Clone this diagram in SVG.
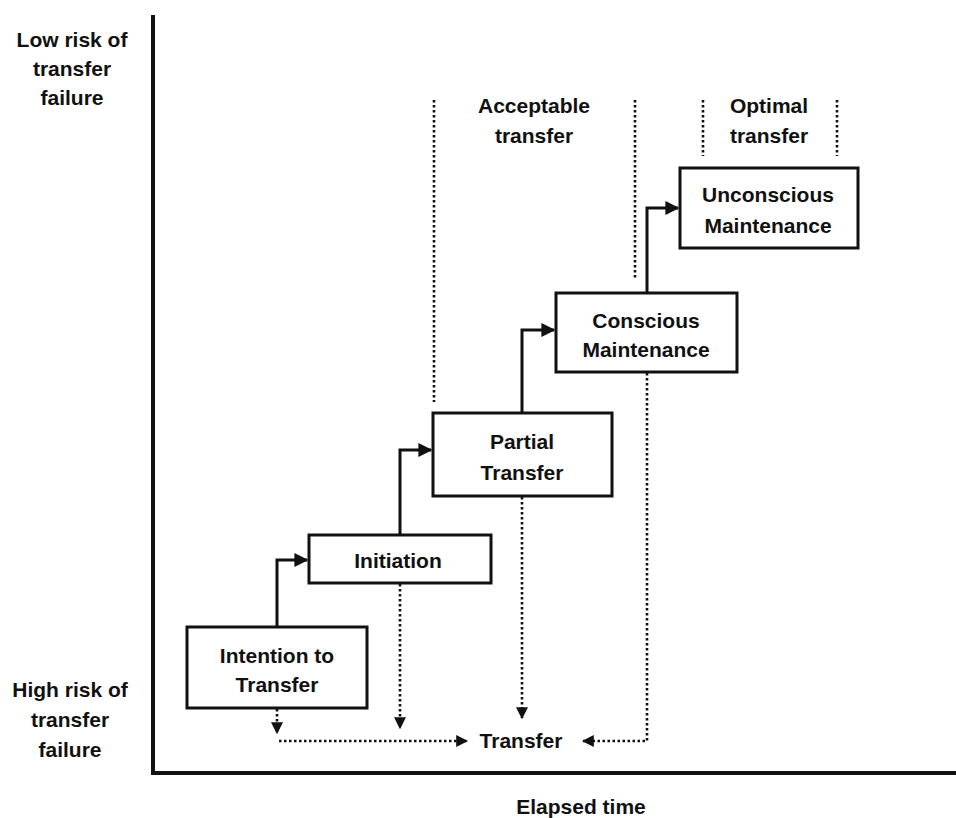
<svg xmlns="http://www.w3.org/2000/svg" width="956" height="818" viewBox="0 0 956 818">
  <style>
    text { font-family: "Liberation Sans", Arial, sans-serif; font-weight: bold; font-size: 21px; fill: #111; text-anchor: middle; }
    .box { fill: #fff; stroke: #111; stroke-width: 3; }
    .step { fill: none; stroke: #111; stroke-width: 3; }
    .dot { fill: none; stroke: #111; stroke-width: 2.6; stroke-dasharray: 2.5 2.5; }
    .axis { fill: none; stroke: #111; stroke-width: 4; }
  </style>
  <defs>
    <marker id="solid" viewBox="0 0 10 10" refX="9" refY="5" markerWidth="14" markerHeight="14" markerUnits="userSpaceOnUse" orient="auto">
      <path d="M0,0 L10,5 L0,10 Z" fill="#111"/>
    </marker>
    <marker id="small" viewBox="0 0 10 10" refX="9" refY="5" markerWidth="12" markerHeight="12" markerUnits="userSpaceOnUse" orient="auto">
      <path d="M0,0 L10,5 L0,10 Z" fill="#111"/>
    </marker>
  </defs>

  <!-- axes -->
  <g id="axes">
    <line class="axis" x1="153" y1="15" x2="153" y2="775"/>
    <line class="axis" x1="151" y1="773" x2="956" y2="773"/>
  </g>

  <!-- axis labels and zone labels -->
  <g id="labels">
    <text x="72" y="47">Low risk of</text>
    <text x="72" y="76">transfer</text>
    <text x="72" y="105">failure</text>
    <text x="70" y="697">High risk of</text>
    <text x="70" y="727">transfer</text>
    <text x="70" y="757">failure</text>
    <text x="581" y="814">Elapsed time</text>
    <text x="534" y="113">Acceptable</text>
    <text x="534" y="143">transfer</text>
    <text x="769" y="113">Optimal</text>
    <text x="769" y="143">transfer</text>
  </g>

  <!-- zone separators -->
  <g id="separators">
    <line class="dot" x1="434" y1="100" x2="434" y2="402"/>
    <line class="dot" x1="635" y1="100" x2="635" y2="280"/>
    <line class="dot" x1="703" y1="100" x2="703" y2="156"/>
    <line class="dot" x1="837" y1="100" x2="837" y2="156"/>
  </g>

  <!-- connectors -->
  <g id="connectors">
    <polyline class="step" points="277,627 277,560 307,560" marker-end="url(#solid)"/>
    <polyline class="step" points="400,535 400,450 431,450" marker-end="url(#solid)"/>
    <polyline class="step" points="522,413 522,330 554,330" marker-end="url(#solid)"/>
    <polyline class="step" points="647,293 647,208 678,208" marker-end="url(#solid)"/>

    <line class="dot" x1="277" y1="709" x2="277" y2="733" marker-end="url(#small)"/>
    <line class="dot" x1="400" y1="584" x2="400" y2="728" marker-end="url(#small)"/>
    <line class="dot" x1="522" y1="497" x2="522" y2="718" marker-end="url(#small)"/>
    <line class="dot" x1="279" y1="741" x2="467" y2="741" marker-end="url(#small)"/>
    <polyline class="dot" points="647,373 647,741 583,741" marker-end="url(#small)"/>
  </g>

  <g id="intention">
    <rect class="box" x="187" y="627" width="180" height="81"/>
    <text x="277" y="663">Intention to</text>
    <text x="277" y="692">Transfer</text>
  </g>
  <g id="initiation">
    <rect class="box" x="309" y="535" width="182" height="48"/>
    <text x="398" y="568">Initiation</text>
  </g>
  <g id="partial">
    <rect class="box" x="433" y="413" width="179" height="83"/>
    <text x="522" y="449">Partial</text>
    <text x="522" y="480">Transfer</text>
  </g>
  <g id="conscious">
    <rect class="box" x="556" y="293" width="181" height="79"/>
    <text x="646" y="328">Conscious</text>
    <text x="646" y="357">Maintenance</text>
  </g>
  <g id="unconscious">
    <rect class="box" x="680" y="168" width="178" height="80"/>
    <text x="768" y="202">Unconscious</text>
    <text x="768" y="233">Maintenance</text>
  </g>
  <g id="transfer">
    <text x="521" y="748">Transfer</text>
  </g>
</svg>
